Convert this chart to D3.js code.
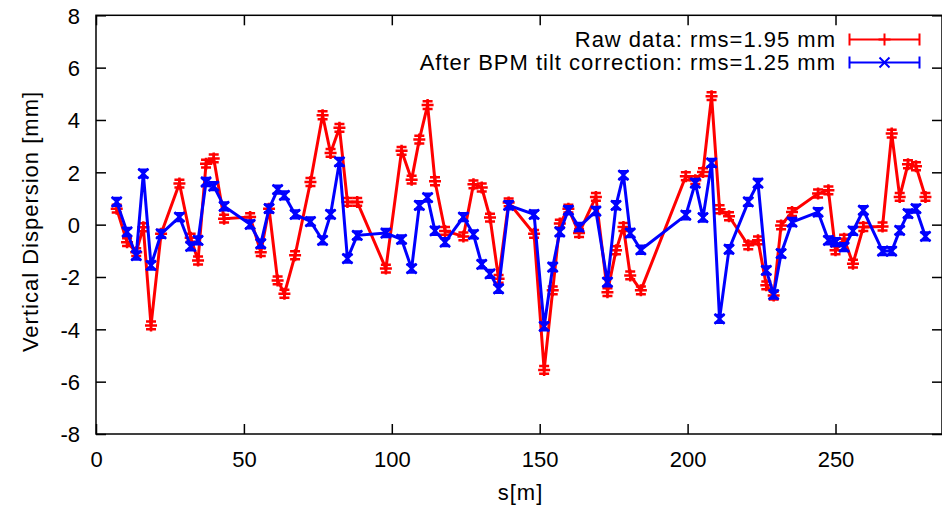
<!DOCTYPE html>
<html>
<head>
<meta charset="utf-8">
<script src="https://cdn.jsdelivr.net/npm/d3@7"></script>
<style>
  html, body { margin: 0; padding: 0; background: #fff; }
  svg { display: block; font-family: "Liberation Sans", Arial, Helvetica, sans-serif; }
</style>
</head>
<body>
<svg id="chart" width="942" height="508"></svg>
<script>
// ---- data ----
const sPos = [7, 10.5, 13.6, 16, 18.6, 22, 28.2, 32, 34.5, 37.2, 39.8, 43.3, 52.1, 55.7, 58.5, 61.4, 63.7, 67.3, 72.5,
  76.6, 79.3, 82.3, 85, 88.3, 98, 103.3, 106.7, 109.3, 112.1, 114.6, 118, 124.2, 127.6, 130.4, 133.2, 136.1, 139.5,
  148.1, 151.5, 154.4, 156.8, 159.7, 163.3, 169, 172.9, 175.8, 178.3, 180.6, 184.2, 199.4, 202.6, 205.2, 208.1, 210.8, 214,
  220.5, 223.8, 226.6, 229.1, 231.6, 235.3, 244.1, 247.6, 250, 252.9, 255.9, 259.4, 265.9, 269, 271.7, 274.5, 277.2, 280.4];

const rawData = [0.61, -0.67, -1.05, -0.1, -3.85, -0.35, 1.57, -0.5, -1.37, 2.33, 2.53, 0.23, 0.29, -1.05, 0.61, -2.13, -2.64, -1.17, 1.63,
  4.18, 2.74, 3.70, 0.87, 0.87, -1.68, 2.82, 1.72, 3.25, 4.57, 1.66, -0.24, -0.45, 1.54, 1.42, 0.27, -2.07, 0.85,
  -0.35, -5.55, -2.51, 0.04, 0.61, -0.32, 1.06, -2.58, -0.98, -0.09, -1.94, -2.51, 1.85, 1.70, 2.01, 4.91, 0.59, 0.32,
  -0.79, -0.60, -2.32, -2.71, -0.03, 0.48, 1.19, 1.31, -0.98, -0.54, -1.49, -0.09, -0.07, 3.48, 1.06, 2.31, 2.23, 1.06];

const corrected = [0.87, -0.28, -1.18, 1.95, -1.56, -0.35, 0.29, -0.83, -0.60, 1.63, 1.47, 0.70, 0.01, -0.73, 0.61, 1.34, 1.12, 0.39, 0.12,
  -0.60, 0.39, 2.40, -1.30, -0.41, -0.32, -0.56, -1.68, 0.74, 1.03, -0.24, -0.67, 0.29, -0.37, -1.52, -1.88, -2.45, 0.74,
  0.39, -3.89, -1.62, -0.28, 0.55, -0.09, 0.52, -2.20, 0.74, 1.89, -0.32, -0.96, 0.36, 1.59, 0.27, 2.36, -3.60, -0.94,
  0.87, 1.59, -1.75, -2.67, -1.11, 0.10, 0.48, -0.60, -0.67, -0.86, -0.24, 0.55, -1.01, -1.01, -0.22, 0.42, 0.61, -0.45];

const rawErr = 0.15;
const corrErr = 0.15;

const xTicks = [0, 50, 100, 150, 200, 250];
const yTicks = [-8, -6, -4, -2, 0, 2, 4, 6, 8];
const seriesNames = ["Raw data: rms=1.95 mm", "After BPM tilt correction: rms=1.25 mm"];
const seriesColors = ["#ff0000", "#0000ff"];
const xTitle = "s[m]";
const yTitle = "Vertical Dispersion [mm]";

// ---- layout ----
const L = 96, R = 942, T = 15.3, B = 434;
const svg = d3.select("#chart");
const x = d3.scaleLinear().domain([0, 286]).range([L, R]);
const y = d3.scaleLinear().domain([-8, 8]).range([B, T]);
const fmt = d => String(d); // plain hyphen-minus like the original

const series = [
  { name: seriesNames[0], color: seriesColors[0], vals: rawData, err: rawErr, marker: "plus" },
  { name: seriesNames[1], color: seriesColors[1], vals: corrected, err: corrErr, marker: "cross" }
];

// axes with inward ticks (mirrored)
const axB = svg.append("g").attr("transform", `translate(0,${B})`)
  .call(d3.axisBottom(x).tickValues(xTicks).tickSizeInner(-10).tickSizeOuter(0).tickFormat(fmt));
const axT = svg.append("g").attr("transform", `translate(0,${T})`)
  .call(d3.axisTop(x).tickValues(xTicks).tickSizeInner(-10).tickSizeOuter(0).tickFormat(""));
const axL = svg.append("g").attr("transform", `translate(${L},0)`)
  .call(d3.axisLeft(y).tickValues(yTicks).tickSizeInner(-10).tickSizeOuter(0).tickFormat(fmt));
const axR = svg.append("g").attr("transform", `translate(${R},0)`)
  .call(d3.axisRight(y).tickValues(yTicks).tickSizeInner(-10).tickSizeOuter(0).tickFormat(""));

[axB, axT, axL, axR].forEach(g => {
  g.select(".domain").remove();
  g.selectAll(".tick line").attr("stroke", "#000").attr("stroke-width", 1.5);
});
axB.selectAll(".tick text").attr("y", 33).attr("dy", 0)
  .attr("font-size", 22).attr("fill", "#000").attr("font-family", null);
axL.selectAll(".tick text").attr("x", -16).attr("dy", "0.35em")
  .attr("font-size", 22).attr("fill", "#000").attr("font-family", null);

// border
svg.append("rect").attr("x", L).attr("y", T).attr("width", R - L).attr("height", B - T)
  .attr("fill", "none").attr("stroke", "#000").attr("stroke-width", 1.5);

// axis titles
svg.append("text").attr("x", x(143.5)).attr("y", 500).attr("text-anchor", "middle")
  .attr("font-size", 22).attr("letter-spacing", 1).text(xTitle);
svg.append("text").attr("transform", `translate(38,221.5) rotate(-90)`).attr("text-anchor", "middle")
  .attr("font-size", 22).attr("letter-spacing", 1).text(yTitle);

// series
const line = d3.line().x(d => x(d.s)).y(d => y(d.v));
function markerPath(type, cx, cy, r) {
  if (type === "plus") return `M${cx - r},${cy}H${cx + r}M${cx},${cy - r}V${cy + r}`;
  return `M${cx - r},${cy - r}L${cx + r},${cy + r}M${cx - r},${cy + r}L${cx + r},${cy - r}`;
}
series.forEach(sr => {
  const pts = sPos.map((s, i) => ({ s, v: sr.vals[i] }));
  const g = svg.append("g");
  g.append("path").datum(pts).attr("d", line).attr("fill", "none")
    .attr("stroke", sr.color).attr("stroke-width", 3).attr("stroke-linejoin", "miter");
  const cap = 5;
  g.selectAll("path.eb").data(pts).enter().append("path").attr("class", "eb")
    .attr("d", d => {
      const px = x(d.s), y1 = y(d.v - sr.err), y2 = y(d.v + sr.err);
      return `M${px},${y1}V${y2}M${px - cap},${y1}H${px + cap}M${px - cap},${y2}H${px + cap}`;
    })
    .attr("fill", "none").attr("stroke", sr.color).attr("stroke-width", 2.5);
  g.selectAll("path.mk").data(pts).enter().append("path").attr("class", "mk")
    .attr("d", d => markerPath(sr.marker, x(d.s), y(d.v), sr.marker === "plus" ? 6 : 5))
    .attr("fill", "none").attr("stroke", sr.color).attr("stroke-width", 2.5);
});

// legend
const legY = [39.5, 62.5];
series.forEach((sr, i) => {
  const ly = legY[i];
  svg.append("text").attr("x", 836).attr("y", ly).attr("dy", "0.35em").attr("text-anchor", "end")
    .attr("font-size", 22).attr("letter-spacing", 1).text(sr.name);
  const x1 = 849.5, x2 = 919.5, cx = 884.5;
  svg.append("path").attr("d", `M${x1},${ly}H${x2}M${x1},${ly - 6}V${ly + 6}M${x2},${ly - 6}V${ly + 6}`)
    .attr("stroke", sr.color).attr("stroke-width", 2).attr("fill", "none");
  svg.append("path").attr("d", markerPath(sr.marker, cx, ly, sr.marker === "plus" ? 6 : 5))
    .attr("stroke", sr.color).attr("stroke-width", 2).attr("fill", "none");
});
</script>
</body>
</html>
